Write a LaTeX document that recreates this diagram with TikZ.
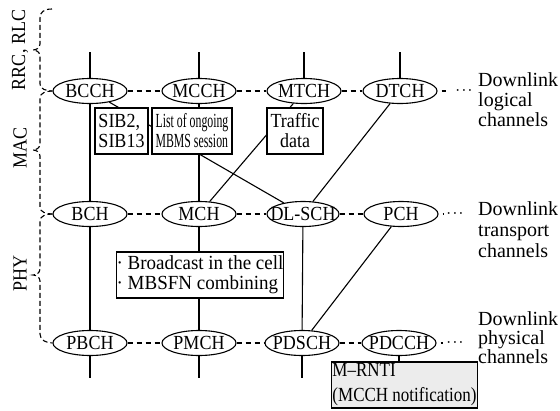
\documentclass[tikz,border=0pt]{standalone}
\usepackage{fontspec}
\setmainfont[FakeStretch=0.9]{Liberation Serif}
\newfontfamily\widefont{Liberation Serif}
\newfontfamily\narrowfont[FakeStretch=0.59]{Liberation Serif}
\newfontfamily\notefont[FakeStretch=0.85]{Liberation Serif}
\newfontfamily\castfont[FakeStretch=0.95]{Liberation Serif}
\usetikzlibrary{shapes.geometric}
\newcommand\ctext[1]{\makebox[0pt][c]{#1}}
\begin{document}
\begin{tikzpicture}[x=1pt,y=-1pt,
  every node/.style={font=\fontsize{20}{20}\selectfont},
  chan/.style={ellipse,draw,fill=white,line width=1.1pt,minimum width=74pt,minimum height=25pt,inner sep=0pt},
  link/.style={line width=1.1pt},
  dlink/.style={line width=1.1pt,dash pattern=on 5pt off 4pt},
  brace/.style={line width=1.1pt,dash pattern=on 5pt off 3pt},
  note/.style={draw,fill=white,line width=1.2pt,inner sep=0pt,minimum height=46pt,align=left},
  lbl/.style={anchor=north west,inner sep=0pt,align=left},
  dots/.style={inner sep=0pt,font=\fontsize{13}{13}\selectfont\boldmath},
]
\path[use as bounding box] (0,0) rectangle (560,410);

% channels
\node[chan] (BCCH) at (90,91) {\ctext{BCCH}};
\node[chan] (MCCH) at (199,91) {\ctext{MCCH}};
\node[chan] (MTCH) at (304,91) {\ctext{MTCH}};
\node[chan] (DTCH) at (400,91) {\ctext{DTCH}};
\node[chan] (BCH) at (90,214) {\ctext{BCH}};
\node[chan] (MCH) at (199,214) {\ctext{MCH}};
\node[chan,minimum width=72pt] (DLSCH) at (303,214) {\ctext{DL-SCH}};
\node[chan] (PCH) at (401,214) {\ctext{PCH}};
\node[chan] (PBCH) at (90,343) {\ctext{PBCH}};
\node[chan] (PMCH) at (199,343) {\ctext{PMCH}};
\node[chan] (PDSCH) at (302,343) {\ctext{PDSCH}};
\node[chan] (PDCCH) at (399,343) {\ctext{PDCCH}};

% top and bottom stubs
\coordinate (t1) at (90,52);
\coordinate (t2) at (199,52);
\coordinate (t3) at (304,52);
\coordinate (t4) at (400,52);
\coordinate (u1) at (90,378);
\coordinate (u2) at (199,378);
\coordinate (u3) at (302,378);
\draw[link] (t1) -- (BCCH);
\draw[link] (t2) -- (MCCH);
\draw[link] (t3) -- (MTCH);
\draw[link] (t4) -- (DTCH);
\draw[link] (PBCH) -- (u1);
\draw[link] (PMCH) -- (u2);
\draw[link] (PDSCH) -- (u3);

% mappings
\draw[link] (BCCH) -- (BCH);
\draw[link] (BCCH) -- (DLSCH);
\draw[link] (MCCH) -- (MCH);
\draw[link] (MTCH) -- (MCH);
\draw[link] (DTCH) -- (DLSCH);
\draw[link] (BCH) -- (PBCH);
\draw[link] (MCH) -- (PMCH);
\draw[link] (DLSCH) -- (PDSCH);
\draw[link] (PCH) -- (PDSCH);

% dashed rows
\draw[dlink] (BCCH) -- (MCCH);
\draw[dlink] (MCCH) -- (MTCH);
\draw[dlink] (MTCH) -- (DTCH);
\draw[dlink] (BCH) -- (MCH);
\draw[dlink] (MCH) -- (DLSCH);
\draw[dlink] (DLSCH) -- (PCH);
\draw[dlink] (PBCH) -- (PMCH);
\draw[dlink] (PMCH) -- (PDSCH);
\draw[dlink] (PDSCH) -- (PDCCH);
\coordinate (e1) at (446,91);
\coordinate (e2) at (444,214);
\coordinate (e3) at (443,343);
\draw[dlink,dash phase=5pt] (DTCH) -- (e1);
\draw[dlink,dash phase=5pt] (PCH) -- (e2);
\draw[dlink,dash phase=5pt] (PDCCH) -- (e3);
\node[dots] (d1) at (464,91) {$\cdots$};
\node[dots] (d2) at (455,214) {$\cdots$};
\node[dots] (d3) at (455,343) {$\cdots$};

% right labels
\node[lbl,font=\widefont\fontsize{20}{20}\selectfont] (L1) at (478,72) {Downlink\\logical\\channels};
\node[lbl,font=\widefont\fontsize{20}{21}\selectfont] (L2) at (478,201) {Downlink\\transport\\channels};
\node[lbl,font=\widefont\fontsize{20}{19}\selectfont] (L3) at (478,311) {Downlink\\physical\\channels};

% notes
\node[note,minimum width=53pt] (sib) at (121.5,131) {SIB2,\\SIB13};
\node[note,minimum width=80pt,font=\narrowfont\fontsize{20}{20}\selectfont] (list) at (192,131) {List of ongoing\\MBMS session};
\node[note,minimum width=56pt,align=center] (traffic) at (295,131) {Traffic\\data};
\node[note,minimum width=166pt,font=\castfont\fontsize{20}{20}\selectfont] (bcast) at (200,275) {· Broadcast in the cell\\· MBSFN combining};
\node[note,minimum width=146pt,fill=gray!15,font=\notefont\fontsize{20}{25}\selectfont] (mrnti) at (404.5,385) {M–RNTI\\(MCCH notification)};
\draw[link] (PDCCH.south) -- (PDCCH.south |- mrnti.north);

% left layer braces
\draw[brace] (52,9) .. controls (44,9) and (40,12) .. (40,18) -- (40,44)
  .. controls (40,48) and (36,50) .. (33,50)
  .. controls (36,50) and (40,52) .. (40,56) -- (40,84)
  .. controls (40,89) and (46,91) .. (BCCH.west);
\draw[brace] (BCCH.west) .. controls (46,91) and (40,93) .. (40,98) -- (40,144)
  .. controls (40,148) and (36,150) .. (33,150)
  .. controls (36,150) and (40,152) .. (40,156) -- (40,207)
  .. controls (40,212) and (46,214) .. (BCH.west);
\draw[brace] (BCH.west) .. controls (46,214) and (40,216) .. (40,221) -- (40,269)
  .. controls (40,273) and (36,275) .. (33,275)
  .. controls (36,275) and (40,277) .. (40,281) -- (40,334)
  .. controls (40,340) and (46,343) .. (PBCH.west);

\node[rotate=90] (rrc) at (20,50) {RRC, RLC};
\node[rotate=90] (mac) at (20,148) {MAC};
\node[rotate=90] (phy) at (20,273) {PHY};
\end{tikzpicture}
\end{document}
